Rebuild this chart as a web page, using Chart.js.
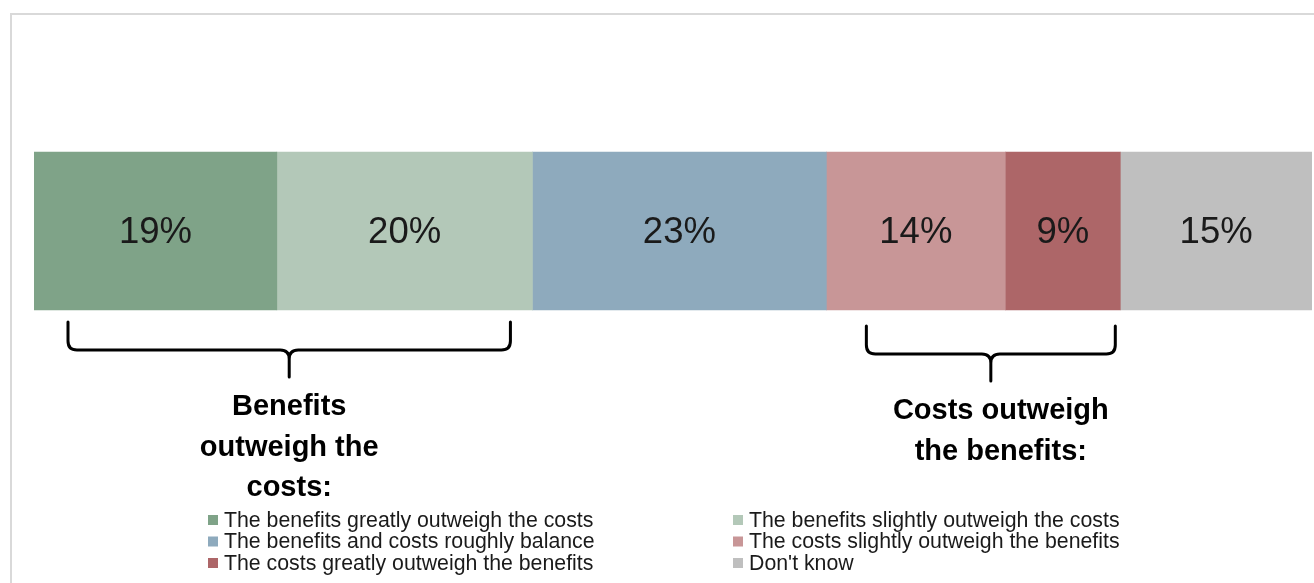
<!DOCTYPE html>
<html>
<head>
<meta charset="utf-8">
<script src="https://cdn.jsdelivr.net/npm/chart.js@4"></script>
<style>
  body { margin: 0; background: #fff; overflow: hidden; }
  #wrap { position: relative; width: 1314px; height: 583px; }
</style>
</head>
<body>
<div id="wrap"><canvas id="chart" width="1314" height="583"></canvas></div>
<script>
// values
const categories = ['All'];
const seriesNames = [
    'The benefits greatly outweigh the costs',
    'The benefits slightly outweigh the costs',
    'The benefits and costs roughly balance',
    'The costs slightly outweigh the benefits',
    'The costs greatly outweigh the benefits',
    "Don't know"
];
const seriesValues = [19, 20, 23, 14, 9, 15];
const seriesColors = ['#7fa388', '#b3c8b8', '#8eaabd', '#c89697', '#ad6668', '#bfbfbf'];

// brace captions
const groupLeft = ['Benefits', 'outweigh the', 'costs:'];
const groupRight = ['Costs outweigh', 'the benefits:'];

const datasets = seriesNames.map((name, i) => ({
    label: name,
    data: [seriesValues[i]],
    backgroundColor: seriesColors[i],
    borderWidth: 0,
    barThickness: 158
}));

// frame, value labels, braces and legend
const extras = {
    id: 'extras',
    beforeDraw(chart) {
        const ctx = chart.ctx;
        ctx.save();
        ctx.strokeStyle = '#d9d9d9';
        ctx.lineWidth = 2;
        ctx.beginPath();
        ctx.moveTo(11, 600);
        ctx.lineTo(11, 14);
        ctx.lineTo(1330, 14);
        ctx.stroke();
        ctx.restore();
    },
    afterDatasetsDraw(chart) {
        const ctx = chart.ctx;
        const xs = chart.scales.x;
        ctx.save();

        // value labels
        ctx.font = '36.5px "Liberation Sans", Arial, sans-serif';
        ctx.fillStyle = '#1a1a1a';
        ctx.textAlign = 'center';
        ctx.textBaseline = 'middle';
        chart.data.datasets.forEach((ds, i) => {
            const bar = chart.getDatasetMeta(i).data[0];
            ctx.fillText(ds.data[0] + '%', (bar.x + bar.base) / 2, bar.y + 2);
        });

        // braces
        let cum = [0];
        seriesValues.forEach(v => cum.push(cum[cum.length - 1] + v));
        const brace = (x1, x2, yTop, yMid, yTip) => {
            const xc = (x1 + x2) / 2, r = 9;
            ctx.beginPath();
            ctx.moveTo(x1, yTop);
            ctx.lineTo(x1, yMid - r);
            ctx.quadraticCurveTo(x1, yMid, x1 + r, yMid);
            ctx.lineTo(xc - r, yMid);
            ctx.quadraticCurveTo(xc, yMid, xc, yMid + r);
            ctx.lineTo(xc, yTip);
            ctx.moveTo(x2, yTop);
            ctx.lineTo(x2, yMid - r);
            ctx.quadraticCurveTo(x2, yMid, x2 - r, yMid);
            ctx.lineTo(xc + r, yMid);
            ctx.quadraticCurveTo(xc, yMid, xc, yMid + r);
            ctx.stroke();
            return xc;
        };
        ctx.strokeStyle = '#000';
        ctx.lineWidth = 3;
        ctx.lineCap = 'round';
        ctx.lineJoin = 'round';
        const lc = brace(xs.getPixelForValue(cum[0]) + 34, xs.getPixelForValue(cum[2]) - 22, 322, 350, 377);
        const rc = brace(xs.getPixelForValue(cum[3]) + 40, xs.getPixelForValue(cum[5]) - 5, 326, 354, 381);

        ctx.fillStyle = '#000';
        ctx.font = 'bold 29px "Liberation Sans", Arial, sans-serif';
        groupLeft.forEach((t, i) => ctx.fillText(t, lc, 407 + i * 40.5));
        groupRight.forEach((t, i) => ctx.fillText(t, rc + 10, 411 + i * 40.5));

        // legend, two columns
        ctx.font = '21.3px "Liberation Sans", Arial, sans-serif';
        ctx.textAlign = 'left';
        const colX = [208, 733];
        seriesNames.forEach((name, i) => {
            const x = colX[i % 2];
            const y = 520 + Math.floor(i / 2) * 21.5;
            ctx.fillStyle = seriesColors[i];
            ctx.fillRect(x, y - 5, 10, 10);
            ctx.fillStyle = '#1a1a1a';
            ctx.fillText(name, x + 16, y + 1);
        });
        ctx.restore();
    }
};

new Chart(document.getElementById('chart'), {
    type: 'bar',
    data: { labels: categories, datasets: datasets },
    options: {
        indexAxis: 'y',
        responsive: false,
        animation: false,
        devicePixelRatio: 1,
        layout: { padding: { left: 34, right: 2, top: 100, bottom: 221 } },
        scales: {
            x: { stacked: true, min: 0, max: 100, display: false },
            y: { stacked: true, display: false }
        },
        plugins: {
            legend: { display: false },
            tooltip: { enabled: false }
        }
    },
    plugins: [extras]
});
</script>
</body>
</html>
